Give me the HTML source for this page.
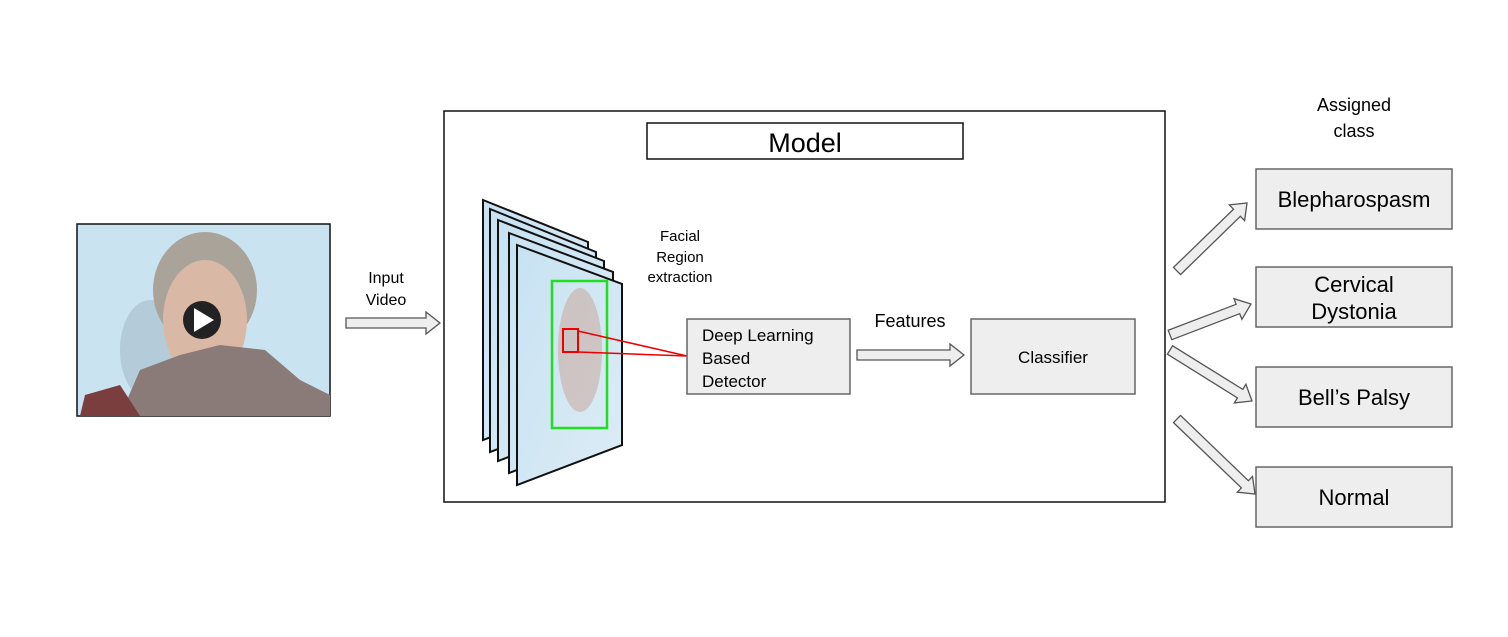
<!DOCTYPE html>
<html><head><meta charset="utf-8"><style>
body{margin:0;background:#fff;}
svg{display:block;font-family:"Liberation Sans",sans-serif;}
</style></head><body>
<svg id="s" width="1508" height="637" viewBox="0 0 1508 637" xmlns="http://www.w3.org/2000/svg">
<defs>
<linearGradient id="fg" x1="0" y1="0" x2="1" y2="1"><stop offset="0" stop-color="#c8e2f2"/><stop offset="1" stop-color="#dcecf6"/></linearGradient>
</defs>
<!-- input video thumbnail -->
<rect x="77" y="224" width="253" height="192" fill="#c9e3f0" stroke="#111" stroke-width="1.5"/>
<ellipse cx="150" cy="350" rx="30" ry="50" fill="#b4cbd9"/>
<ellipse cx="205" cy="290" rx="52" ry="58" fill="#a9a399"/>
<ellipse cx="205" cy="320" rx="42" ry="60" fill="#d9b9a6"/>
<path d="M120 416 L140 370 L180 355 L220 345 L265 350 L300 380 L330 395 L330 416 Z" fill="#8a7a78"/>
<path d="M80 416 L85 395 L120 385 L140 416 Z" fill="#7a3e3e"/>
<circle cx="202" cy="320" r="19" fill="#222"/>
<polygon points="194,308 194,332 214,320" fill="#fff"/>
<text x="386" y="283" font-size="16" text-anchor="middle">Input</text>
<text x="386" y="305" font-size="16" text-anchor="middle">Video</text>
<!-- model box -->
<rect x="444" y="111" width="721" height="391" fill="none" stroke="#111" stroke-width="1.5"/>
<rect x="647" y="123" width="316" height="36" fill="#fff" stroke="#111" stroke-width="1.5"/>
<text x="805" y="152" font-size="27" text-anchor="middle">Model</text>
<g id="frames"></g>
<rect x="552" y="281" width="55" height="147" fill="none" stroke="#1ee01e" stroke-width="2.5"/>
<ellipse cx="580" cy="350" rx="22" ry="62" fill="#c9a89a" opacity="0.55"/>
<rect x="563" y="329" width="15" height="23" fill="none" stroke="#e00" stroke-width="2"/>
<line x1="578" y1="331" x2="687" y2="356" stroke="#e00" stroke-width="1.5"/>
<line x1="578" y1="352" x2="687" y2="356" stroke="#e00" stroke-width="1.5"/>
<text x="680" y="241" font-size="15" text-anchor="middle">Facial</text>
<text x="680" y="262" font-size="15" text-anchor="middle">Region</text>
<text x="680" y="282" font-size="15" text-anchor="middle">extraction</text>
<rect x="687" y="319" width="163" height="75" fill="#eee" stroke="#666" stroke-width="1.5"/>
<text x="702" y="341" font-size="17">Deep Learning</text>
<text x="702" y="364" font-size="17">Based</text>
<text x="702" y="387" font-size="17">Detector</text>
<text x="910" y="327" font-size="18" text-anchor="middle">Features</text>
<rect x="971" y="319" width="164" height="75" fill="#eee" stroke="#666" stroke-width="1.5"/>
<text x="1053" y="363" font-size="17" text-anchor="middle">Classifier</text>
<text x="1354" y="111" font-size="18" text-anchor="middle">Assigned</text>
<text x="1354" y="137" font-size="18" text-anchor="middle">class</text>
<rect x="1256" y="169" width="196" height="60" fill="#eee" stroke="#666" stroke-width="1.5"/>
<text x="1354" y="207" font-size="22" text-anchor="middle">Blepharospasm</text>
<rect x="1256" y="267" width="196" height="60" fill="#eee" stroke="#666" stroke-width="1.5"/>
<text x="1354" y="292" font-size="22" text-anchor="middle">Cervical</text>
<text x="1354" y="319" font-size="22" text-anchor="middle">Dystonia</text>
<rect x="1256" y="367" width="196" height="60" fill="#eee" stroke="#666" stroke-width="1.5"/>
<text x="1354" y="405" font-size="22" text-anchor="middle">Bell’s Palsy</text>
<rect x="1256" y="467" width="196" height="60" fill="#eee" stroke="#666" stroke-width="1.5"/>
<text x="1354" y="505" font-size="22" text-anchor="middle">Normal</text>
<g id="arrows"></g>
</svg>
<script>
var NS="http://www.w3.org/2000/svg";
var fr=document.getElementById("frames");
var F=[[483,200,588,242,440],[490,209,596,252,452],[498,220,604,261,461],[509,233,613,272,473],[517,245,622,284,485]];
F.forEach(function(f){
  var p=document.createElementNS(NS,"polygon");
  var h=f[4]-f[1];
  var br=f[3]+h-40;
  p.setAttribute("points",f[0]+","+f[1]+" "+f[2]+","+f[3]+" "+f[2]+","+(f[4]-40)+" "+f[0]+","+f[4]);
  p.setAttribute("fill","url(#fg)");p.setAttribute("stroke","#111");p.setAttribute("stroke-width","2");
  fr.appendChild(p);
});
var ag=document.getElementById("arrows");
function arrow(x1,y1,x2,y2,sw,hw,hl){
  var dx=x2-x1,dy=y2-y1,L=Math.hypot(dx,dy),ux=dx/L,uy=dy/L,nx=-uy,ny=ux;
  var bx=x2-ux*hl,by=y2-uy*hl;
  var pts=[[x1+nx*sw,y1+ny*sw],[bx+nx*sw,by+ny*sw],[bx+nx*hw,by+ny*hw],[x2,y2],[bx-nx*hw,by-ny*hw],[bx-nx*sw,by-ny*sw],[x1-nx*sw,y1-ny*sw]];
  var p=document.createElementNS(NS,"polygon");
  p.setAttribute("points",pts.map(function(q){return q[0].toFixed(1)+","+q[1].toFixed(1)}).join(" "));
  p.setAttribute("fill","#eee");p.setAttribute("stroke","#555");p.setAttribute("stroke-width","1.3");
  ag.appendChild(p);
}
arrow(346,323,440,323,5,11,14);
arrow(857,355,964,355,5,11,14);
arrow(1177,271,1247,203,5,11,14);
arrow(1170,335,1251,304,5,11,14);
arrow(1170,350,1252,401,5,11,14);
arrow(1177,419,1255,494,5,11,14);
</script>
</body></html>
